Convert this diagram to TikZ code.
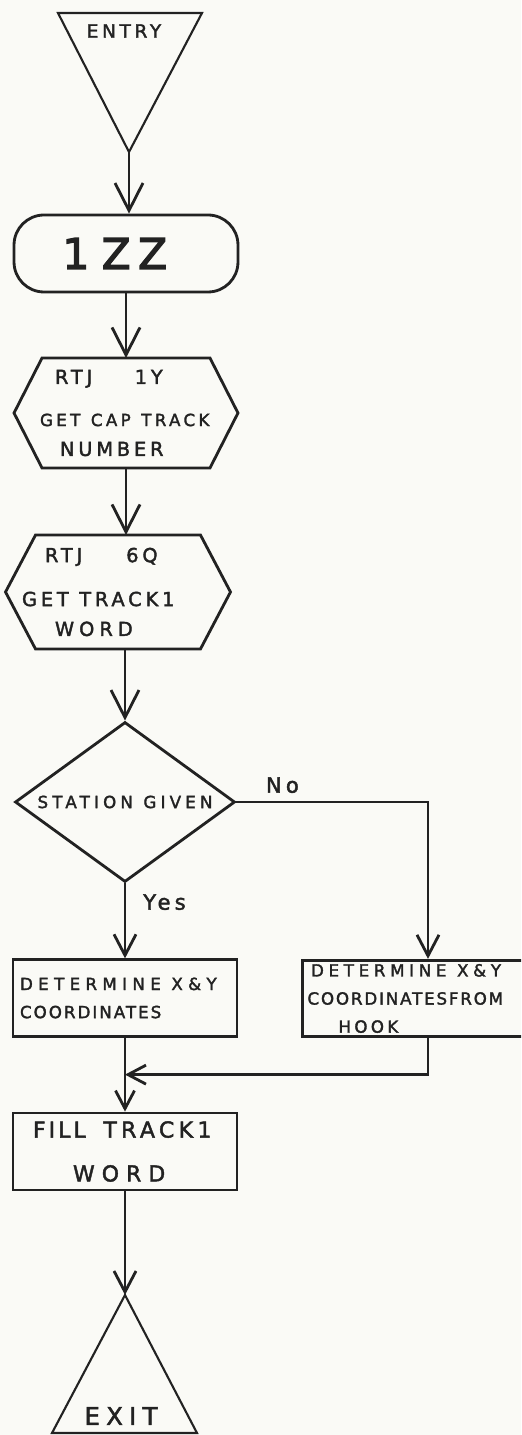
\documentclass[tikz,border=0pt]{standalone}
\usepackage{fontspec}
\usepackage{xcolor}
\usetikzlibrary{arrows.meta,positioning,calc,shapes.geometric}
\newfontfamily\handfont{DejaVu Sans}[LetterSpace=20,FakeBold=2]
\newcommand{\wgap}{\hspace{6pt}}
\newcommand{\bigline}[1]{{\fontsize{11}{16}\selectfont #1}}
\newcommand{\spaced}[2]{{\addfontfeature{LetterSpace=#1}#2}}
\definecolor{paper}{RGB}{250,250,246}
\definecolor{ink}{RGB}{34,34,34}

\begin{document}
\begin{tikzpicture}[x=0.02cm,y=-0.02cm,>={Straight Barb[length=5.5mm,width=5.6mm]},
    line width=1.6pt,color=ink,
    font=\handfont\fontsize{9.5}{16}\selectfont,
    box/.style={draw,minimum width=4.48cm,minimum height=1.53cm,text width=4.2cm,align=left,inner sep=0pt},
    hexbox/.style={minimum height=2.2cm,align=left,inner sep=0pt,outer sep=0pt},
    mid tip/.style={-{Straight Barb[length=4.2mm,width=4.4mm]}},
    small tip/.style={-{Straight Barb[length=3.6mm,width=3.8mm]}},
    lbl/.style={font=\handfont\fontsize{12}{14}\selectfont}]
    % 画布与裁剪
    \useasboundingbox (0,0) rectangle (521,1435);
    \fill[paper] (0,0) rectangle (521,1435);
    \clip (0,0) rectangle (521,1435);

    % 入口三角形
    \coordinate (entry tip) at (129,152);
    \draw[line width=1.2pt] (58,13) -- (202,13) -- (entry tip) -- cycle;
    \node[font=\handfont\fontsize{10.5}{12}\selectfont] (entry) at (124,31) {ENTRY};

    % 1ZZ 圆角框
    \node[draw,rounded corners=0.6cm,minimum width=4.48cm,minimum height=1.54cm,
          font=\handfont\fontsize{24}{28}\selectfont] (zz) at (126,253.5)
        {\addfontfeature{FakeBold=3}1\hspace{0.25cm}Z\hspace{0.15cm}Z\hspace{0.45cm}\mbox{}};

    % 两个六边形子程序框（先放节点，再按锚点描边）
    \node[hexbox,minimum width=4.48cm,text width=4.0cm] (rtjA) at (126,413)
        {\hspace{0.58cm}\bigline{RTJ\hspace{0.85cm}1Y}\\[8pt]\hspace{0.28cm}GET\wgap CAP\wgap TRACK\\[1pt]\hspace{0.68cm}\bigline{NUMBER}};
    \draw ([xshift=0.56cm]rtjA.north west) -- ([xshift=-0.56cm]rtjA.north east) -- (rtjA.east)
        -- ([xshift=-0.56cm]rtjA.south east) -- ([xshift=0.56cm]rtjA.south west) -- (rtjA.west) -- cycle;

    \node[hexbox,minimum width=4.5cm,minimum height=2.28cm,text width=4.1cm,
          font=\handfont\fontsize{11}{16}\selectfont] (rtjB) at (118,592)
        {\hspace{0.59cm}RTJ\hspace{0.88cm}6Q\\[9pt]\hspace{0.13cm}GET\wgap TRACK1\\[1pt]\hspace{0.79cm}\spaced{26}{WORD}};
    \draw ([xshift=0.6cm]rtjB.north west) -- ([xshift=-0.6cm]rtjB.north east) -- (rtjB.east)
        -- ([xshift=-0.6cm]rtjB.south east) -- ([xshift=0.6cm]rtjB.south west) -- (rtjB.west) -- cycle;

    % 判断菱形
    \node[draw,diamond,aspect=1.375,minimum width=4.4cm,minimum height=3.2cm,inner sep=0pt]
        (station) at (125,802) {\spaced{25}{STATION\wgap GIVEN}};

    % 两个分支处理框
    \node[box] (xyA) at (125,998) {\spaced{32}{DETERMINE\wgap X\&Y}\\\spaced{12}{COORDINATES}};
    \node[box,minimum width=4.54cm] (xyB) at (416,998.5)
        {\spaced{28}{DETERMINE\wgap X\&Y}\\\hspace{-2pt}\spaced{11}{COORDINATES\hspace{1pt}FROM}\\\hspace{0.55cm}HOOK};

    % 汇合后的处理框
    \node[box,minimum height=1.54cm,font=\handfont\fontsize{12.5}{16}\selectfont] (fill) at (125,1151.5)
        {\hspace{0.26cm}\spaced{14}{FILL}\hspace{10pt}TRACK1\\[9pt]\hspace{1.06cm}\spaced{32}{WORD}};
    \coordinate (merge) at ($(xyA.south)!0.5!(fill.north)$);

    % 出口三角形
    \coordinate (exit tip) at (125,1295);
    \draw[line width=1.2pt] (exit tip) -- (197,1433) -- (52,1433) -- cycle;
    \node[font=\handfont\fontsize{14}{16}\selectfont] (exit) at (121,1416) {\spaced{25}{EXIT}};

    % 主干连线
    \draw[->] (entry tip) -- (entry tip |- zz.north);
    \draw[->] (zz.south) -- (rtjA.north);
    \draw[->] (rtjA.south) -- (rtjA.south |- rtjB.north);
    \draw[->] (station.north |- rtjB.south) -- (station.north);

    % 是 / 否 分支
    \draw[mid tip] (station.south) -- node[lbl,right=0.22cm,pos=0.25] {Yes} (xyA.north);
    \draw[mid tip] (station.east) -| node[lbl,above=1pt,pos=0.12] {No} ([xshift=0.24cm]xyB.north);

    % 汇合
    \draw[small tip] ([xshift=0.24cm]xyB.south) |- (merge);
    \draw[small tip] (xyA.south) -- (fill.north);
    \draw[mid tip] (fill.south) -- (exit tip);
\end{tikzpicture}
\end{document}
